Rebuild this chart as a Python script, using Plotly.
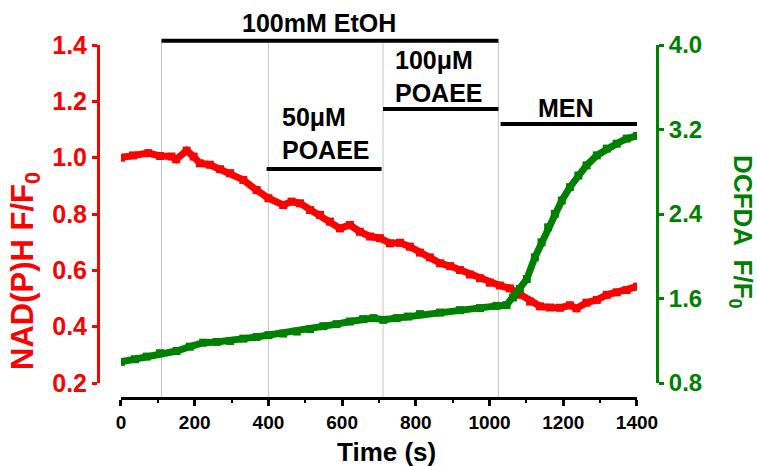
import plotly.graph_objects as go

# NAD(P)H autofluorescence (normalised F/F0)
nadh_time = [0, 33, 74, 106, 137, 150, 178, 197, 214, 241, 269, 296, 332, 368, 400,
             440, 463, 486, 513, 540, 567, 594, 621, 648, 676, 703, 730, 757, 784,
             811, 838, 866, 893, 920, 947, 974, 1001, 1028, 1055, 1082, 1110, 1137,
             1164, 1191, 1218, 1236, 1263, 1291, 1318, 1345, 1372, 1400]
nadh_ratio = [1.000, 1.008, 1.016, 1.006, 1.004, 0.994, 1.025, 1.004, 0.980, 0.975,
              0.959, 0.945, 0.921, 0.885, 0.856, 0.832, 0.844, 0.838, 0.814, 0.797,
              0.773, 0.749, 0.761, 0.737, 0.720, 0.714, 0.696, 0.698, 0.684, 0.663,
              0.646, 0.625, 0.615, 0.601, 0.585, 0.572, 0.556, 0.546, 0.536, 0.513,
              0.489, 0.472, 0.468, 0.467, 0.476, 0.465, 0.485, 0.495, 0.513, 0.522,
              0.530, 0.542]

# DCFDA fluorescence (normalised F/F0)
dcfda_time = [0, 38, 70, 106, 151, 187, 223, 260, 296, 332, 368, 400, 440, 477, 513,
              549, 585, 621, 657, 685, 712, 748, 779, 811, 866, 920, 974, 1019, 1046,
              1064, 1082, 1101, 1123, 1141, 1159, 1177, 1196, 1218, 1241, 1263, 1291,
              1318, 1345, 1372, 1400]
dcfda_ratio = [1.000, 1.025, 1.050, 1.082, 1.103, 1.144, 1.182, 1.189, 1.198, 1.220,
               1.236, 1.253, 1.268, 1.287, 1.310, 1.338, 1.357, 1.382, 1.405, 1.414,
               1.398, 1.414, 1.429, 1.452, 1.467, 1.490, 1.509, 1.530, 1.537, 1.610,
               1.690, 1.784, 1.990, 2.132, 2.274, 2.401, 2.528, 2.654, 2.765, 2.860,
               2.955, 3.019, 3.066, 3.114, 3.140]

# Treatment periods: label, start (s), end (s), bar height (paper y)
treatments = [
    ("100mM EtOH", 110, 1024, 1.012),
    ("50μM<br>POAEE", 395, 707, 0.649),
    ("100μM<br>POAEE", 711, 1024, 0.819),
    ("MEN", 1030, 1403, 0.776),
]
# Vertical markers at solution changes: time (s), top (paper y)
change_times = [110, 400, 711, 1024, 1403]
change_tops = [1.012, 1.012, 1.012, 1.012, 0.776]

RED = "#ff0000"
GREEN = "#008000"
FONT = "Liberation Sans, Arial, sans-serif"

fig = go.Figure()

fig.add_trace(go.Scatter(
    x=nadh_time, y=nadh_ratio, mode="lines+markers",
    line=dict(color=RED, width=7),
    marker=dict(symbol="square", size=8, color=RED),
    yaxis="y", showlegend=False))

fig.add_trace(go.Scatter(
    x=dcfda_time, y=dcfda_ratio, mode="lines+markers",
    line=dict(color=GREEN, width=7),
    marker=dict(symbol="square", size=8, color=GREEN),
    yaxis="y2", showlegend=False))

shapes = []
for t, top in zip(change_times, change_tops):
    shapes.append(dict(type="line", xref="x", yref="paper", x0=t, x1=t,
                       y0=0, y1=top, layer="below",
                       line=dict(color="#c4c4c4", width=1)))
for label, t0, t1, yb in treatments:
    shapes.append(dict(type="line", xref="x", yref="paper", x0=t0, x1=t1,
                       y0=yb, y1=yb, line=dict(color="black", width=4)))

bold = dict(family=FONT, size=25, color="black", weight="bold")
annotations = [
    dict(text="100mM EtOH", x=537, y=1.062, xref="x", yref="paper",
         xanchor="center", yanchor="middle", showarrow=False, font=bold),
    dict(text="50μM<br>POAEE", x=431, y=0.748, xref="x", yref="paper",
         xanchor="left", yanchor="middle", align="left", showarrow=False, font=bold),
    dict(text="100μM<br>POAEE", x=738, y=0.91, xref="x", yref="paper",
         xanchor="left", yanchor="middle", align="left", showarrow=False, font=bold),
    dict(text="MEN", x=1207, y=0.822, xref="x", yref="paper",
         xanchor="center", yanchor="middle", showarrow=False, font=bold),
    dict(text="Time (s)", x=720, y=-0.153, xref="x", yref="paper",
         xanchor="center", yanchor="middle", showarrow=False,
         font=dict(family=FONT, size=26, color="black", weight="bold")),
    dict(text="NAD(P)H F/F<sub>0</sub>", x=-0.1306, y=0.36, xref="paper", yref="paper",
         xanchor="center", yanchor="middle", textangle=-90, showarrow=False,
         font=dict(family=FONT, size=31, color=RED, weight="bold")),
    dict(text="DCFDA  F/F<sub>0</sub>", x=1.152, y=0.47, xref="paper", yref="paper",
         xanchor="center", yanchor="middle", textangle=90, showarrow=False,
         font=dict(family=FONT, size=26, color=GREEN, weight="bold")),
]

fig.update_layout(
    width=757, height=466, autosize=False,
    margin=dict(l=98, r=100, t=45, b=68, pad=0),
    paper_bgcolor="white", plot_bgcolor="white",
    font=dict(family=FONT, weight="bold"),
    shapes=shapes, annotations=annotations,
    xaxis=dict(
        domain=[0.0411, 0.9642], range=[0, 1400], anchor="free", position=0,
        showline=True, linecolor="black", linewidth=3,
        ticks="outside", ticklen=6, tickwidth=3, tickcolor="black",
        tick0=0, dtick=200, showgrid=False, zeroline=False,
        tickfont=dict(family=FONT, size=19, color="black", weight="bold"),
        minor=dict(dtick=100, ticks="outside", ticklen=3, tickwidth=2,
                   tickcolor="black", showgrid=False),
    ),
    yaxis=dict(
        domain=[0.0425, 1], range=[0.2, 1.4], anchor="free", position=0,
        side="left", showline=True, linecolor=RED, linewidth=3,
        ticks="outside", ticklen=5, tickwidth=3, tickcolor=RED,
        tick0=0.2, dtick=0.2, tickformat=".1f", showgrid=False, zeroline=False,
        tickfont=dict(family=FONT, size=25, color=RED, weight="bold"),
    ),
    yaxis2=dict(
        domain=[0.0425, 1], range=[0.8, 4.0], anchor="free", position=1,
        overlaying="y", side="right", showline=True, linecolor=GREEN, linewidth=3,
        ticks="outside", ticklen=5, tickwidth=3, tickcolor=GREEN,
        tick0=0.8, dtick=0.8, tickformat=".1f", showgrid=False, zeroline=False,
        tickfont=dict(family=FONT, size=24, color=GREEN, weight="bold"),
    ),
)

fig.write_html("out.html")
